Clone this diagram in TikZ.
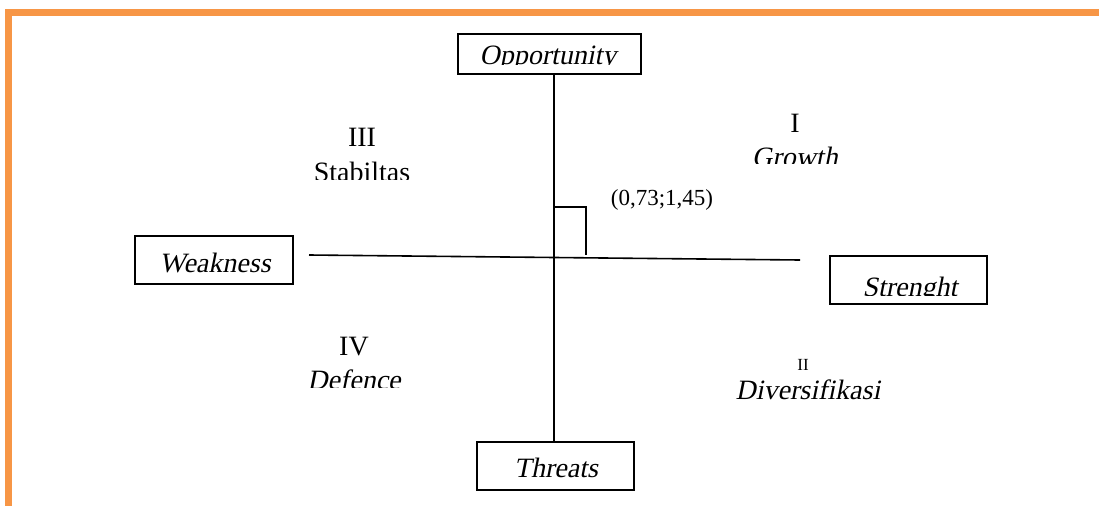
\documentclass[tikz,border=0pt]{standalone}
\usepackage{fontspec}
\setmainfont{Liberation Serif}[ItalicFont={Liberation Serif Italic}, AutoFakeSlant=0.2]
\definecolor{frameorange}{HTML}{F79646}
\begin{document}
\begin{tikzpicture}[x=1pt,y=-1pt,
  boxnode/.style={draw=black, line width=1.6pt, rectangle, inner sep=0pt},
  lbl/.style={inner sep=0pt, anchor=base, font=\fontsize{28}{31}\selectfont},
  ilbl/.style={lbl, font=\fontsize{28}{31}\selectfont\itshape},
  axis/.style={draw=black, line width=1.6pt}]
\useasboundingbox (0,0) rectangle (1099,506);
% orange frame
\draw[frameorange, line width=6.5pt] (5,12.5) -- (1099,12.5);
\draw[frameorange, line width=6.5pt] (8.5,9.5) -- (8.5,506);
% boxes
\node[boxnode, minimum width=183pt, minimum height=40pt] (opp) at (549.5,54) {};
\node[boxnode, minimum width=158pt, minimum height=48pt] (weak) at (214,260) {};
\node[boxnode, minimum width=157pt, minimum height=48pt] (str) at (908.5,280) {};
\node[boxnode, minimum width=157pt, minimum height=48pt] (thr) at (555.5,466) {};
% box texts
\begin{scope}
  \clip (459,35) rectangle (640,64.5);
  \node[ilbl] (opptxt) at (548,64) {Opportunity};
\end{scope}
\node[ilbl] (weaktxt) at (215,272) {Weakness};
\begin{scope}
  \clip (831,257) rectangle (986,295);
  \node[ilbl] (strtxt) at (910,296) {Strenght};
\end{scope}
\node[ilbl] (thrtxt) at (556,477) {Threats};
% axes
\coordinate (vx) at (554,0);
\coordinate (hl) at (309,255);
\coordinate (hr) at (800,260);
\draw[axis] (opp.south -| vx) -- (thr.north -| vx);
\draw[axis] (hl) -- (hr);
% right-angle mark
\coordinate (sq1) at (554,207);
\coordinate (sq2) at (586,207);
\coordinate (sq3) at (586,255);
\draw[axis] (sq1) -- (sq2) -- (sq3);
\node[lbl, font=\fontsize{23}{26}\selectfont] (coord) at (662,205) {(0,73;1,45)};
% quadrant labels
\node[lbl] (q3) at (362,146) {III};
\begin{scope}
  \clip (290,152) rectangle (440,179.5);
  \node[lbl] (q3t) at (362,181) {Stabiltas};
\end{scope}
\node[lbl] (q1) at (795,132) {I};
\begin{scope}
  \clip (720,138) rectangle (870,163.5);
  \node[ilbl] (q1t) at (795,166) {Growth};
\end{scope}
\node[lbl] (q4) at (354,355) {IV};
\begin{scope}
  \clip (290,360) rectangle (430,387.5);
  \node[ilbl] (q4t) at (354,389) {Defence};
\end{scope}
\node[lbl, font=\fontsize{17}{20}\selectfont] (q2) at (803,370) {II};
\node[ilbl] (q2t) at (808,399) {Diversifikasi};
\end{tikzpicture}
\end{document}
